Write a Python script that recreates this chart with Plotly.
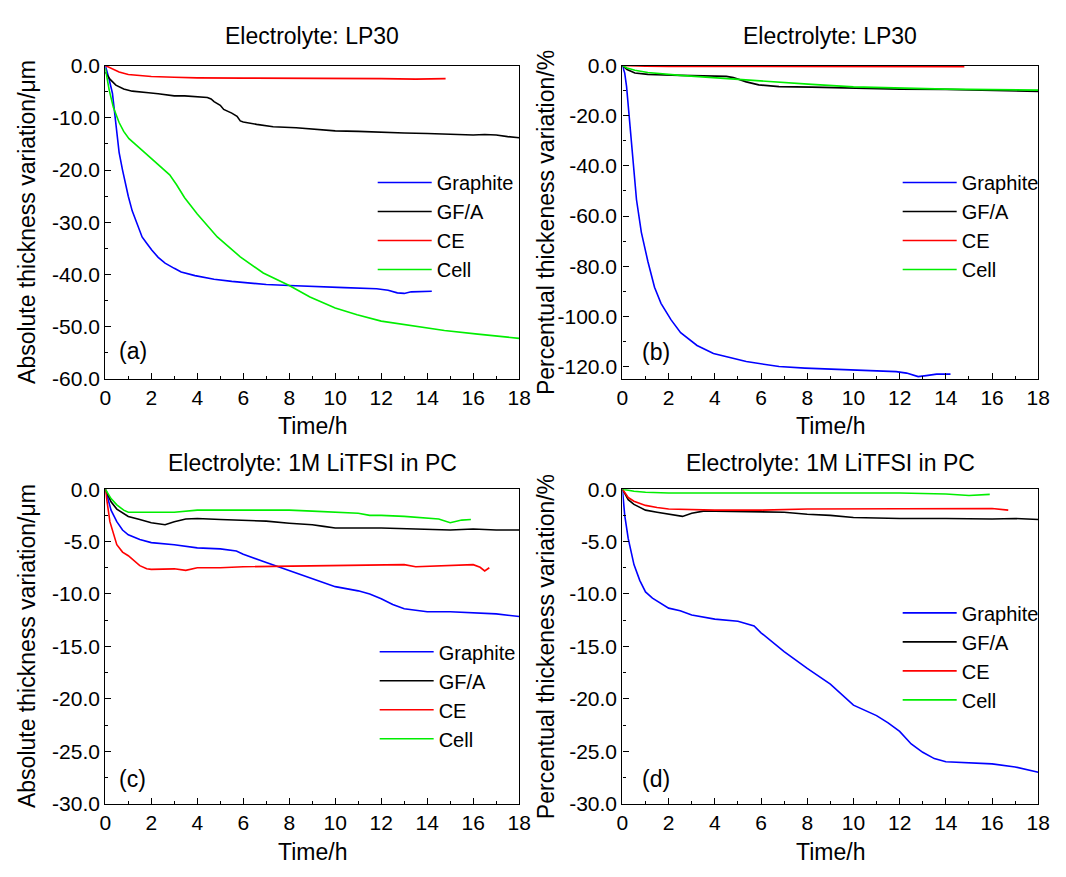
import plotly.graph_objects as go

# ---------------- data ----------------
series_names = ["Graphite", "GF/A", "CE", "Cell"]
panel_titles = ["Electrolyte: LP30", "Electrolyte: LP30",
                "Electrolyte: 1M LiTFSI in PC", "Electrolyte: 1M LiTFSI in PC"]
panel_tags = ["(a)", "(b)", "(c)", "(d)"]
ytitle_abs = "Absolute thickness variation/μm"
ytitle_pct = "Percentual thickeness variation/%"
xtitle = "Time/h"

x_tick_vals = [0, 2, 4, 6, 8, 10, 12, 14, 16, 18]
x_tick_text = ["0", "2", "4", "6", "8", "10", "12", "14", "16", "18"]
ya_tick_vals = [0, -10, -20, -30, -40, -50, -60]
ya_tick_text = ["0.0", "-10.0", "-20.0", "-30.0", "-40.0", "-50.0", "-60.0"]
yb_tick_vals = [0, -20, -40, -60, -80, -100, -120]
yb_tick_text = ["0.0", "-20.0", "-40.0", "-60.0", "-80.0", "-100.0", "-120.0"]
ycd_tick_vals = [0, -5, -10, -15, -20, -25, -30]
ycd_tick_text = ["0.0", "-5.0", "-10.0", "-15.0", "-20.0", "-25.0", "-30.0"]

# Panel (a) LP30, absolute
graphite_a_t = [0, 0.15, 0.31, 0.46, 0.6, 0.75, 0.88, 1.0, 1.17, 1.4, 1.6, 1.8, 2.02, 2.3, 2.6, 3.0, 3.3,
                3.9, 4.73, 5.5, 6.15, 7.0, 8.0, 9.0, 10.4, 11.8, 12.3, 12.7, 13.0, 13.3, 13.7, 14.2]
graphite_a_y = [0, -2.3, -5.3, -11.6, -16.6, -20.0, -22.8, -25.0, -27.8, -30.5, -32.8, -34.0, -35.3, -36.7,
                -37.8, -38.8, -39.5, -40.2, -40.9, -41.3, -41.6, -41.9, -42.1, -42.3, -42.5, -42.7, -43.0,
                -43.5, -43.6, -43.3, -43.2, -43.2]
gfa_a_t = [0, 0.2, 0.46, 0.8, 1.17, 1.5, 1.88, 2.3, 2.6, 3.0, 3.45, 4.0, 4.44, 4.6, 4.73, 5.0, 5.15, 5.5,
           5.73, 5.87, 6.0, 6.58, 7.3, 8.3, 9.0, 10.0, 11.0, 12.0, 13.0, 14.0, 15.0, 16.0, 16.5, 17.0, 17.5, 18.0]
gfa_a_y = [-1.25, -2.6, -3.75, -4.5, -4.9, -5.1, -5.2, -5.4, -5.6, -5.8, -5.8, -5.9, -6.1, -6.4, -6.9, -7.6,
           -8.4, -9.1, -9.7, -10.6, -10.8, -11.25, -11.7, -11.9, -12.1, -12.5, -12.6, -12.8, -12.9, -13.0,
           -13.1, -13.3, -13.2, -13.3, -13.6, -13.8]
ce_a_t = [0, 0.3, 0.6, 1.0, 1.5, 2.0, 3.0, 4.0, 6.0, 8.0, 10.0, 12.0, 13.5, 14.0, 14.8]
ce_a_y = [0, -0.6, -1.25, -1.7, -1.9, -2.1, -2.25, -2.35, -2.4, -2.4, -2.5, -2.5, -2.6, -2.6, -2.5]
cell_a_t = [0, 0.17, 0.35, 0.6, 0.8, 1.03, 1.52, 2.02, 2.4, 2.8, 3.1, 3.45, 4.0, 4.87, 5.87, 6.87, 8.0,
            8.9, 10.0, 10.95, 12.0, 13.3, 14.75, 16.2, 17.0, 18.0]
cell_a_y = [-0.5, -4.7, -8.0, -10.9, -12.6, -14.0, -15.9, -17.8, -19.3, -20.9, -22.8, -25.3, -28.4, -32.8,
            -36.6, -39.7, -42.1, -44.3, -46.4, -47.7, -48.9, -49.8, -50.7, -51.4, -51.8, -52.2]

# Panel (b) LP30, percent
graphite_b_t = [0, 0.1, 0.18, 0.33, 0.47, 0.61, 0.82, 1.1, 1.39, 1.67, 2.1, 2.52, 3.23, 3.94, 5.36, 6.78,
                7.9, 9.0, 10.4, 11.85, 12.3, 12.8, 13.15, 13.6, 14.2]
graphite_b_y = [0, -3, -8.4, -23.9, -40.6, -53.5, -66.5, -78, -88.4, -94.8, -101.3, -106.5, -111.6, -114.8,
                -118, -120, -120.6, -121, -121.5, -122, -122.6, -124, -123.6, -123, -123]
gfa_b_t = [0, 0.2, 0.54, 1.1, 2.5, 3.5, 4.5, 4.8, 5.36, 5.9, 6.78, 8.2, 10.0, 12.0, 14.0, 16.0, 18.0]
gfa_b_y = [0, -1.6, -3.0, -3.5, -3.9, -4.1, -4.3, -4.8, -6.5, -7.7, -8.4, -8.6, -9.1, -9.4, -9.5, -9.8, -10.3]
ce_b_t = [0, 0.5, 1, 2, 4, 8, 12, 14.8]
ce_b_y = [0, -0.2, -0.3, -0.35, -0.4, -0.4, -0.45, -0.5]
cell_b_t = [0, 0.2, 0.54, 1.1, 2.5, 3.9, 5.36, 6.78, 8.2, 10, 12, 14, 16, 18]
cell_b_y = [0, -1.0, -1.9, -2.8, -3.9, -4.8, -5.8, -6.8, -7.5, -8.5, -9.0, -9.4, -9.6, -9.8]

# Panel (c) LiTFSI/PC, absolute
graphite_c_t = [0, 0.25, 0.5, 0.75, 1.0, 1.5, 2.0, 3.0, 4.0, 5.0, 5.7, 6.0, 7.0, 8.0, 9.0, 10.0, 11.0, 11.5,
                12.0, 12.5, 13.0, 14.0, 15.0, 16.0, 17.0, 18.0]
graphite_c_y = [0, -2.0, -3.1, -3.9, -4.35, -4.8, -5.1, -5.3, -5.6, -5.7, -5.9, -6.2, -7.0, -7.75, -8.5, -9.3,
                -9.7, -10.0, -10.45, -11.0, -11.4, -11.7, -11.7, -11.8, -11.9, -12.15]
gfa_c_t = [0, 0.25, 0.5, 1.0, 1.5, 2.0, 2.6, 3.0, 3.5, 4.0, 5.0, 6.0, 7.0, 8.0, 9.0, 9.5, 10.0, 12.0, 14.0,
           15.0, 16.0, 17.0, 18.0]
gfa_c_y = [0, -1.2, -1.9, -2.6, -2.9, -3.2, -3.4, -3.1, -2.85, -2.8, -2.9, -2.95, -3.05, -3.25, -3.4, -3.55,
           -3.7, -3.7, -3.8, -3.9, -3.8, -3.9, -3.9]
ce_c_t = [0, 0.2, 0.5, 0.75, 1.0, 1.5, 1.8, 2.0, 3.0, 3.5, 4.0, 5.0, 6.0, 8.0, 10.0, 12.0, 13.0, 13.5, 14.0,
          15.0, 16.0, 16.3, 16.5, 16.7]
ce_c_y = [0, -3.1, -5.3, -6.0, -6.35, -7.3, -7.6, -7.65, -7.6, -7.75, -7.5, -7.5, -7.4, -7.35, -7.3, -7.2,
          -7.2, -7.4, -7.35, -7.3, -7.2, -7.45, -7.8, -7.5]
cell_c_t = [0, 0.25, 0.5, 0.8, 1.0, 2.0, 3.0, 4.0, 6.0, 8.0, 9.0, 10.0, 11.0, 11.5, 12.0, 13.0, 14.0, 14.5,
            15.0, 15.5, 15.9]
cell_c_y = [0, -0.9, -1.5, -2.0, -2.2, -2.2, -2.2, -2.0, -2.0, -2.0, -2.1, -2.2, -2.3, -2.5, -2.5, -2.6, -2.8,
            -2.85, -3.2, -2.95, -2.9]

# Panel (d) LiTFSI/PC, percent
graphite_d_t = [0, 0.1, 0.25, 0.5, 0.75, 1.0, 1.3, 2.0, 2.5, 3.0, 4.0, 5.0, 5.7, 6.0, 7.0, 8.0, 9.0, 10.0,
                11.0, 11.5, 12.0, 12.5, 13.0, 13.5, 14.0, 15.0, 16.0, 17.0, 18.0]
graphite_d_y = [0, -2.5, -4.7, -7.2, -8.7, -9.8, -10.4, -11.35, -11.6, -12.0, -12.4, -12.6, -13.05, -13.7,
                -15.5, -17.1, -18.6, -20.6, -21.6, -22.3, -23.1, -24.3, -25.1, -25.7, -26.0, -26.1, -26.2,
                -26.5, -27.0]
gfa_d_t = [0, 0.25, 0.5, 1.0, 1.5, 2.0, 2.6, 3.0, 3.5, 4.0, 5.0, 6.0, 7.0, 8.0, 9.0, 10.0, 12.0, 14.0, 16.0,
           17.0, 18.0]
gfa_d_y = [0, -1.0, -1.45, -2.0, -2.2, -2.4, -2.6, -2.3, -2.1, -2.1, -2.15, -2.2, -2.2, -2.4, -2.5, -2.7,
           -2.8, -2.8, -2.85, -2.8, -2.9]
ce_d_t = [0, 0.25, 0.5, 1.0, 1.5, 2.0, 4.0, 6.0, 8.0, 10.0, 12.0, 14.0, 16.0, 16.7]
ce_d_y = [0, -0.8, -1.15, -1.55, -1.75, -1.9, -2.0, -2.0, -1.9, -1.9, -1.9, -1.9, -1.85, -2.0]
cell_d_t = [0, 0.5, 1.0, 2.0, 12.0, 14.0, 15.0, 15.9]
cell_d_y = [0, -0.2, -0.3, -0.37, -0.37, -0.46, -0.6, -0.5]

# ---------------- styling ----------------
W, H = 1066, 877
FONT = "Liberation Sans, Arial, sans-serif"
colors = {"Graphite": "#0000ff", "GF/A": "#000000", "CE": "#ff0000", "Cell": "#00ee00"}

# plot-area boxes in pixels (left, right, top, bottom) and title centre rows
boxes = [(101, 522, 55, 377), (627, 1050, 55, 377), (101, 522, 490, 813), (627, 1050, 490, 813)]
title_rows = [25, 25, 463, 463]
xtitle_rows = [425, 425, 863, 863]
ytitle_cols = [22, 550, 22, 550]

def px(x):
    return x / W

def py(y):
    return 1 - y / H

panels = [
    dict(data=[(graphite_a_t, graphite_a_y), (gfa_a_t, gfa_a_y), (ce_a_t, ce_a_y), (cell_a_t, cell_a_y)],
         yr=[-60, 0], tv=ya_tick_vals, tt=ya_tick_text, minor=5, ytitle=ytitle_abs, tag=(1.2, -54.7),
         leg=(379, 155)),
    dict(data=[(graphite_b_t, graphite_b_y), (gfa_b_t, gfa_b_y), (ce_b_t, ce_b_y), (cell_b_t, cell_b_y)],
         yr=[-125, 0], tv=yb_tick_vals, tt=yb_tick_text, minor=10, ytitle=ytitle_pct, tag=(1.44, -114),
         leg=(913, 155)),
    dict(data=[(graphite_c_t, graphite_c_y), (gfa_c_t, gfa_c_y), (ce_c_t, ce_c_y), (cell_c_t, cell_c_y)],
         yr=[-30, 0], tv=ycd_tick_vals, tt=ycd_tick_text, minor=2.5, ytitle=ytitle_abs, tag=(1.2, -27.6),
         leg=(381, 637)),
    dict(data=[(graphite_d_t, graphite_d_y), (gfa_d_t, gfa_d_y), (ce_d_t, ce_d_y), (cell_d_t, cell_d_y)],
         yr=[-30, 0], tv=ycd_tick_vals, tt=ycd_tick_text, minor=2.5, ytitle=ytitle_pct, tag=(1.44, -27.6),
         leg=(913, 597)),
]

fig = go.Figure()
layout = dict(width=W, height=H, margin=dict(l=0, r=0, t=0, b=0),
              paper_bgcolor="white", plot_bgcolor="white",
              font=dict(family=FONT, color="black", size=21), showlegend=True)
annotations = []

for i, p in enumerate(panels):
    n = i + 1
    sfx = "" if n == 1 else str(n)
    legname = "legend" if n == 1 else f"legend{n}"
    l, r, t, b = boxes[i]
    for name, (tx, ty) in zip(series_names, p["data"]):
        fig.add_trace(go.Scatter(x=tx, y=ty, mode="lines", name=name,
                                 line=dict(color=colors[name], width=1.6),
                                 xaxis=f"x{sfx}", yaxis=f"y{sfx}", legend=legname))
    axcommon = dict(showline=True, linecolor="black", linewidth=1.3, mirror=True,
                    showgrid=False, zeroline=False, ticks="inside", ticklen=6, tickwidth=1.3,
                    tickcolor="black", tickfont=dict(family=FONT, size=21, color="black"))
    layout[f"xaxis{sfx}"] = dict(domain=[px(l), px(r)], range=[0, 18], anchor=f"y{sfx}",
                                 tickmode="array", tickvals=x_tick_vals, ticktext=x_tick_text,
                                 minor=dict(dtick=1, ticks="inside", ticklen=3, tickwidth=1.3,
                                            tickcolor="black", tick0=0),
                                 **axcommon)
    layout[f"yaxis{sfx}"] = dict(domain=[py(b), py(t)], range=p["yr"], anchor=f"x{sfx}",
                                 tickmode="array", tickvals=p["tv"], ticktext=p["tt"],
                                 minor=dict(dtick=p["minor"], ticks="inside", ticklen=3, tickwidth=1.3,
                                            tickcolor="black", tick0=0),
                                 **axcommon)
    lx, ly = p["leg"]
    layout[legname] = dict(x=px(lx - 6), y=py(ly), xanchor="left", yanchor="top",
                           bgcolor="rgba(0,0,0,0)", borderwidth=0, itemwidth=54,
                           tracegroupgap=0, font=dict(family=FONT, size=20, color="black"))
    # panel title
    annotations.append(dict(text=panel_titles[i], x=px((l + r) / 2), y=py(title_rows[i]), xref="paper",
                            yref="paper", showarrow=False, xanchor="center", yanchor="middle",
                            font=dict(family=FONT, size=23, color="black")))
    # x title
    annotations.append(dict(text=xtitle, x=px((l + r) / 2), y=py(xtitle_rows[i]), xref="paper",
                            yref="paper", showarrow=False, xanchor="center", yanchor="middle",
                            font=dict(family=FONT, size=23, color="black")))
    # y title
    annotations.append(dict(text=p["ytitle"], x=px(ytitle_cols[i]), y=py((t + b) / 2), xref="paper",
                            yref="paper", showarrow=False, xanchor="center", yanchor="middle",
                            textangle=-90, font=dict(family=FONT, size=23, color="black")))
    # panel tag
    annotations.append(dict(text=panel_tags[i], x=p["tag"][0], y=p["tag"][1], xref=f"x{sfx}",
                            yref=f"y{sfx}", showarrow=False, xanchor="center", yanchor="middle",
                            font=dict(family=FONT, size=23, color="black")))

layout["annotations"] = annotations
fig.update_layout(**layout)
fig.write_html("out.html", config={"displayModeBar": False},
               post_script="document.body.style.margin='0';")
